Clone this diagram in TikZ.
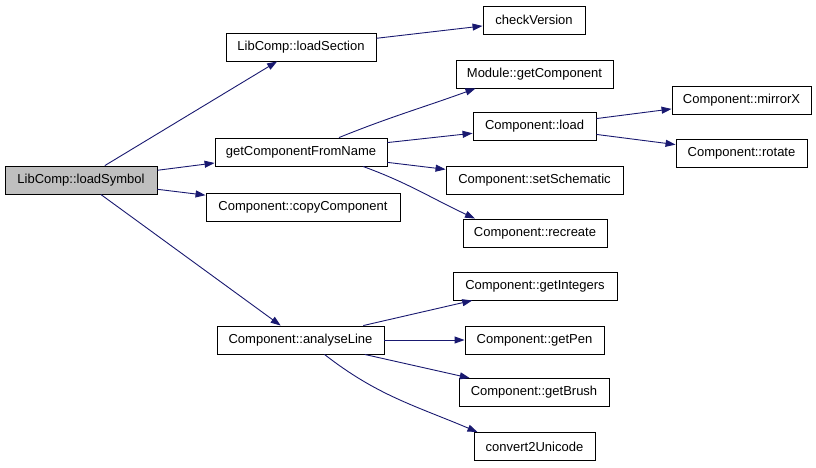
\documentclass[tikz,border=0pt]{standalone}
\usepackage{fontspec}
\setmainfont{Liberation Sans}
\usetikzlibrary{arrows.meta}
\definecolor{edgeblue}{HTML}{191970}
\definecolor{rootgray}{HTML}{BFBFBF}
\begin{document}
\begin{tikzpicture}[x=1pt,y=-1pt,
  fn/.style={draw=black,line width=0.9pt,fill=white,inner sep=0pt,minimum height=28pt,
    font=\fontsize{13}{15}\selectfont},
  root/.style={fn,fill=rootgray},
  call/.style={draw=edgeblue,line width=0.9pt,-{Triangle[length=10pt,width=7pt]}}]
\useasboundingbox (0,0) rectangle (816,467);
% functions
\node[root,minimum width=152pt] (ls) at (81,180) {LibComp::loadSymbol};
\node[fn,minimum width=150pt] (lsec) at (301,47) {LibComp::loadSection};
\node[fn,minimum width=102pt] (cv) at (534,20) {checkVersion};
\node[fn,minimum width=157pt] (mgc) at (534.5,74) {Module::getComponent};
\node[fn,minimum width=172pt] (gcfn) at (301,152) {getComponentFromName};
\node[fn,minimum width=123pt] (cl) at (534.5,126.5) {Component::load};
\node[fn,minimum width=139pt] (mx) at (741.5,100) {Component::mirrorX};
\node[fn,minimum width=131pt] (rot) at (741.5,153) {Component::rotate};
\node[fn,minimum width=177pt] (ss) at (534.5,180) {Component::setSchematic};
\node[fn,minimum width=144pt] (rec) at (535,233) {Component::recreate};
\node[fn,minimum width=194pt] (cc) at (303,207) {Component::copyComponent};
\node[fn,minimum width=167pt] (al) at (300.5,340) {Component::analyseLine};
\node[fn,minimum width=164pt] (gi) at (535,286) {Component::getIntegers};
\node[fn,minimum width=139pt] (gp) at (534.5,340) {Component::getPen};
\node[fn,minimum width=150pt] (gb) at (534,392.5) {Component::getBrush};
\node[fn,minimum width=121pt] (c2u) at (534.5,446.5) {convert2Unicode};
% calls
\draw[call] (ls) -- (lsec);
\draw[call] (ls) -- (gcfn);
\draw[call] (ls) -- (cc);
\draw[call] (ls) -- (al);
\draw[call] (lsec) -- (cv);
\draw[call] ([xshift=38pt]gcfn.north) to[out=22,in=200] ([xshift=-59pt]mgc.south);
\draw[call] (gcfn) -- (cl);
\draw[call] (gcfn) -- (ss);
\draw[call] ([xshift=62pt]gcfn.south) to[out=-20,in=155] ([xshift=-60pt]rec.north);
\draw[call] (cl) -- (mx);
\draw[call] (cl) -- (rot);
\draw[call] (al) -- (gi);
\draw[call] (al) -- (gp);
\draw[call] (al) -- (gb);
\draw[call] ([xshift=24pt]al.south) to[out=-38,in=157] ([xshift=-57pt]c2u.north);
\end{tikzpicture}
\end{document}
